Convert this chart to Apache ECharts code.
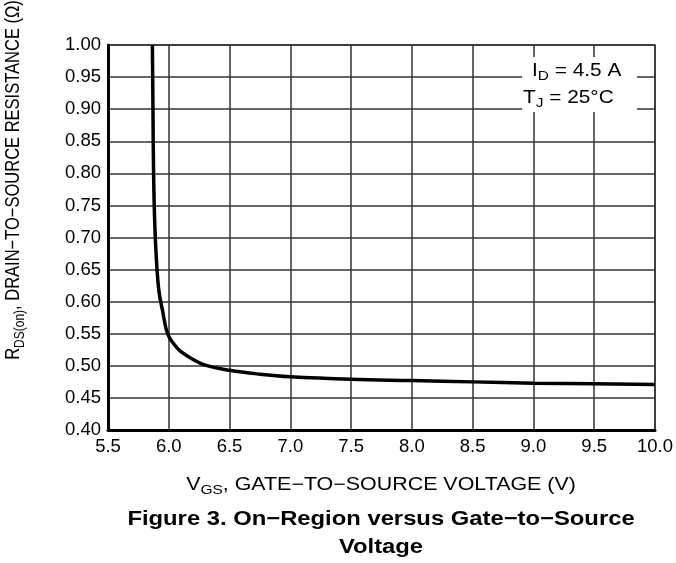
<!DOCTYPE html>
<html>
<head>
<meta charset="utf-8">
<script src="https://cdn.jsdelivr.net/npm/echarts@6/dist/echarts.min.js"></script>
<style>
  html, body { margin: 0; padding: 0; background: #fff; }
  #chart { width: 676px; height: 563px; }
</style>
</head>
<body>
<div id="chart"></div>
<script>
// RDS(on) vs VGS, ID = 4.5 A, TJ = 25°C
var vgs = [5.865, 5.87, 5.875, 5.885, 5.9, 5.92, 5.95, 5.99, 6.05, 6.1, 6.2, 6.3, 6.5, 6.75, 7.0, 7.5, 8.0, 8.5, 9.0, 9.5, 10.0];
var rds = [1.0, 0.9, 0.8, 0.72, 0.66, 0.615, 0.585, 0.55, 0.532, 0.522, 0.51, 0.501, 0.493, 0.487, 0.483, 0.479, 0.477, 0.475, 0.473, 0.472, 0.471];
var xTicks = [5.5, 10.0, 0.5];   // min, max, step
var yTicks = [0.40, 1.00, 0.05];

var font = 'Liberation Sans, Arial, Helvetica, sans-serif';
var stretch = 1.19; // source text is a bit wider than Arial
var points = [];
for (var i = 0; i < vgs.length; i++) {
    points.push([vgs[i], rds[i]]);
}

var subRich = function (big, small) {
    return {
        a: { fontFamily: font, fontSize: big, fill: '#000', lineHeight: big + 6 },
        b: { fontFamily: font, fontSize: small, fill: '#000', lineHeight: small, verticalAlign: 'bottom' }
    };
};

var chart = echarts.init(document.getElementById('chart'));
chart.setOption({
    animation: false,
    grid: {
        left: 108, top: 45, right: 20, bottom: 133,
        show: true,
        borderColor: '#333',
        borderWidth: 1.5
    },
    xAxis: {
        type: 'value',
        min: xTicks[0], max: xTicks[1], interval: xTicks[2],
        axisLine: { lineStyle: { color: '#000', width: 3 } },
        axisTick: { show: false },
        splitLine: { lineStyle: { color: '#333', width: 1.5 } },
        axisLabel: {
            color: '#000', fontFamily: font, fontSize: 18.5, margin: 7,
            formatter: function (v) { return v.toFixed(1); }
        }
    },
    yAxis: {
        type: 'value',
        min: yTicks[0], max: yTicks[1], interval: yTicks[2],
        axisLine: { show: true, lineStyle: { color: '#000', width: 3 } },
        axisTick: { show: false },
        splitLine: { lineStyle: { color: '#333', width: 1.5 } },
        axisLabel: {
            color: '#000', fontFamily: font, fontSize: 18.5, margin: 7,
            formatter: function (v) { return v.toFixed(2); }
        }
    },
    graphic: [
        {   // y axis title
            type: 'text',
            x: 14, y: 180,
            rotation: Math.PI / 2,
            scaleY: stretch,
            style: {
                text: '{a|R}{b|DS(on)}{a|, DRAIN\u2212TO\u2212SOURCE RESISTANCE (\u03A9)}',
                align: 'center',
                verticalAlign: 'middle',
                rich: subRich(16.5, 12)
            }
        },
        {   // x axis title
            type: 'text',
            x: 381, y: 485,
            scaleX: stretch,
            style: {
                text: '{a|V}{b|GS}{a|, GATE\u2212TO\u2212SOURCE VOLTAGE (V)}',
                align: 'center',
                verticalAlign: 'middle',
                rich: subRich(18, 13)
            }
        },
        {   // caption
            type: 'text',
            x: 381, y: 533,
            scaleX: stretch,
            style: {
                text: 'Figure 3. On\u2212Region versus Gate\u2212to\u2212Source\nVoltage',
                align: 'center',
                verticalAlign: 'middle',
                fontFamily: font,
                fontSize: 20,
                fontWeight: 'bold',
                lineHeight: 28,
                fill: '#000'
            }
        },
        {
            type: 'rect',
            shape: { x: 522, y: 57, width: 115, height: 55 },
            style: { fill: '#fff' },
            z: 10
        },
        {
            type: 'text',
            x: 532, y: 59,
            z: 11,
            scaleX: stretch,
            style: {
                text: '{a|I}{b|D}{a| = 4.5 A}',
                rich: subRich(17.5, 13)
            }
        },
        {
            type: 'text',
            x: 523, y: 86,
            z: 11,
            scaleX: stretch,
            style: {
                text: '{a|T}{b|J}{a| = 25\u00B0C}',
                rich: subRich(17.5, 13)
            }
        }
    ],
    series: [{
        type: 'line',
        data: points,
        smooth: 0.4,
        showSymbol: false,
        lineStyle: { color: '#000', width: 3.5 },
        z: 5
    }]
});
</script>
</body>
</html>
